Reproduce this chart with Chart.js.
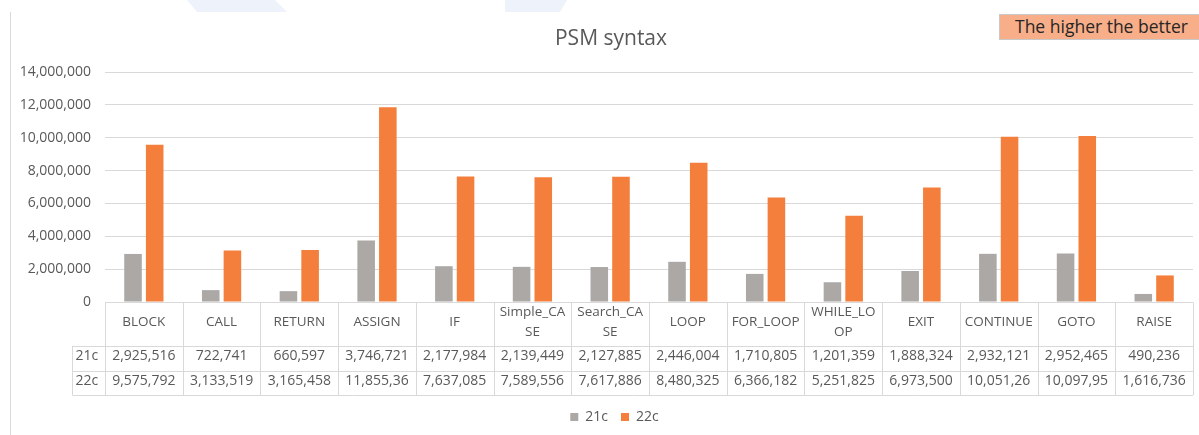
<!doctype html>
<html>

<head>
    <title>PSM syntax</title>
    <script src="https://cdn.jsdelivr.net/npm/chart.js"></script>
</head>

<style>
    body {
        margin: 0;
        background-color: #fff;
    }

    .pagina {
        position: relative;
        width: 1199px;
        height: 435px;
        overflow: hidden;
    }

    .faixa {
        position: absolute;
        top: 0;
        height: 12px;
        background-color: #eef2fa;
    }

    .faixa1 {
        left: 187px;
        width: 100px;
        clip-path: polygon(0 0, 88px 0, 100px 12px, 10px 12px);
    }

    .faixa2 {
        left: 505px;
        width: 62px;
        clip-path: polygon(0 0, 62px 0, 55px 12px, 0 12px);
    }

    .moldura {
        position: absolute;
        left: 10px;
        top: 12px;
        bottom: 0;
        border-left: 1px solid #d9d9d9;
    }

    .grafico {
        position: absolute;
        left: 0;
        top: 0;
        width: 1199px;
        height: 435px;
    }

    .nota {
        position: absolute;
        left: 999px;
        top: 14px;
        width: 230px;
        height: 26px;
        box-sizing: border-box;
        padding-left: 15px;
        background-color: #f8ae88;
        border: 1px solid #c8c8c8;
        color: #262626;
        font: 17.5px 'Open Sans', sans-serif;
        line-height: 23px;
    }
</style>

<body>
    <div class="pagina">
        <div class="faixa faixa1"></div>
        <div class="faixa faixa2"></div>
        <div class="moldura"></div>
        <div class="grafico"><canvas id="psm"></canvas></div>
        <div class="nota">The higher the better</div>
    </div>

    <script>
        // dados
        var categorias = ['BLOCK', 'CALL', 'RETURN', 'ASSIGN', 'IF', 'Simple_CASE', 'Search_CASE',
            'LOOP', 'FOR_LOOP', 'WHILE_LOOP', 'EXIT', 'CONTINUE', 'GOTO', 'RAISE'];
        var valores21c = [2925516, 722741, 660597, 3746721, 2177984, 2139449, 2127885,
            2446004, 1710805, 1201359, 1888324, 2932121, 2952465, 490236];
        var valores22c = [9575792, 3133519, 3165458, 11855360, 7637085, 7589556, 7617886,
            8480325, 6366182, 5251825, 6973500, 10051260, 10097950, 1616736];
        var ticksY = [0, 2000000, 4000000, 6000000, 8000000, 10000000, 12000000, 14000000];
        var titulo = 'PSM syntax';

        var cinzaTexto = '#595959';
        var corLinha = '#d9d9d9';
        var fonte = "'Open Sans', sans-serif";

        function formatar(v) {
            return v.toLocaleString('en-US');
        }

        // corta o texto como o Excel faz quando nao cabe na celula
        function cortar(ctx, texto, largura) {
            while (texto.length > 1 && ctx.measureText(texto).width > largura) {
                texto = texto.slice(0, -1);
            }
            return texto;
        }

        // quebra por caractere os rotulos longos
        function quebrar(ctx, texto, largura) {
            var linhas = [];
            var atual = '';
            for (var c of texto) {
                if (atual && ctx.measureText(atual + c).width > largura) {
                    linhas.push(atual);
                    atual = c;
                } else {
                    atual += c;
                }
            }
            linhas.push(atual);
            return linhas;
        }

        var tabelaDados = {
            id: 'tabelaDados',
            afterLayout(chart) {
                // legenda um pouco para a direita, como no original
                chart.legend.left += 13;
                chart.legend.right += 13;
            },
            afterDraw(chart) {
                var ctx = chart.ctx;
                var area = chart.chartArea;
                var x = chart.scales.x;
                var passo = (area.right - area.left) / categorias.length;
                var topo = area.bottom + 0.5;
                var linhas = [topo, topo + 43.5, topo + 68, topo + 92.5];
                var esquerdaCab = Math.round(area.left - 33.5) + 0.5;

                ctx.save();

                // titulo centrado na moldura do grafico
                ctx.fillStyle = cinzaTexto;
                ctx.font = '21px ' + fonte;
                ctx.textAlign = 'center';
                ctx.textBaseline = 'middle';
                ctx.fillText(titulo, 611, 39.5);

                ctx.strokeStyle = corLinha;
                ctx.lineWidth = 1;
                ctx.beginPath();
                ctx.moveTo(area.left, linhas[0]);
                ctx.lineTo(area.right, linhas[0]);
                for (var r = 1; r < linhas.length; r++) {
                    ctx.moveTo(esquerdaCab, Math.round(linhas[r]) + 0.5);
                    ctx.lineTo(area.right, Math.round(linhas[r]) + 0.5);
                }
                for (var i = 0; i <= categorias.length; i++) {
                    var px = Math.round(area.left + i * passo) + 0.5;
                    ctx.moveTo(px, linhas[0]);
                    ctx.lineTo(px, linhas[3]);
                }
                ctx.moveTo(esquerdaCab, linhas[1]);
                ctx.lineTo(esquerdaCab, linhas[3]);
                ctx.stroke();

                // rotulos das categorias
                ctx.font = '13.5px ' + fonte;
                categorias.forEach((nome, i) => {
                    var cx = x.getPixelForValue(i);
                    var partes = quebrar(ctx, nome, 70);
                    var meio = topo + 20;
                    partes.forEach((p, k) => {
                        ctx.fillText(p, cx, meio + (k - (partes.length - 1) / 2) * 20);
                    });
                });

                // linhas de valores
                ctx.font = '14px ' + fonte;
                chart.data.datasets.forEach((ds, k) => {
                    var cy = (linhas[k + 1] + linhas[k + 2]) / 2 - 2;
                    ctx.textAlign = 'left';
                    ctx.fillText(ds.label, esquerdaCab + 3, cy);
                    ctx.textAlign = 'center';
                    ds.data.forEach((v, i) => {
                        ctx.fillText(cortar(ctx, formatar(v), 66), x.getPixelForValue(i), cy);
                    });
                });
                ctx.restore();
            }
        };

        var grafico = new Chart(document.getElementById('psm').getContext('2d'), {
            type: 'bar',
            data: {
                labels: categorias,
                datasets: [{
                    label: '21c',
                    data: valores21c,
                    backgroundColor: '#aba8a6'
                }, {
                    label: '22c',
                    data: valores22c,
                    backgroundColor: '#f47e3c'
                }]
            },
            options: {
                responsive: true,
                maintainAspectRatio: false,
                animation: false,
                categoryPercentage: 0.558,
                barPercentage: 0.81,
                layout: {
                    padding: { left: 10, right: 6, top: 72, bottom: 1 }
                },
                plugins: {
                    title: { display: false },
                    legend: {
                        position: 'bottom',
                        labels: {
                            boxWidth: 8,
                            boxHeight: 8,
                            padding: 13,
                            color: cinzaTexto,
                            font: { family: fonte, size: 14 }
                        }
                    },
                    tooltip: { enabled: false }
                },
                scales: {
                    x: {
                        grid: { display: false },
                        border: { display: false },
                        ticks: { display: false },
                        afterFit: (escala) => { escala.height = 95; }
                    },
                    y: {
                        min: 0,
                        max: 14000000,
                        afterBuildTicks: (escala) => {
                            escala.ticks = ticksY.map(v => ({ value: v }));
                        },
                        afterFit: (escala) => { escala.width = 95; },
                        grid: { color: corLinha, drawTicks: false },
                        border: { display: false },
                        ticks: {
                            padding: 14,
                            color: cinzaTexto,
                            font: { family: fonte, size: 14 },
                            callback: (v) => formatar(v)
                        }
                    }
                }
            },
            plugins: [tabelaDados]
        });
    </script>
</body>

</html>
